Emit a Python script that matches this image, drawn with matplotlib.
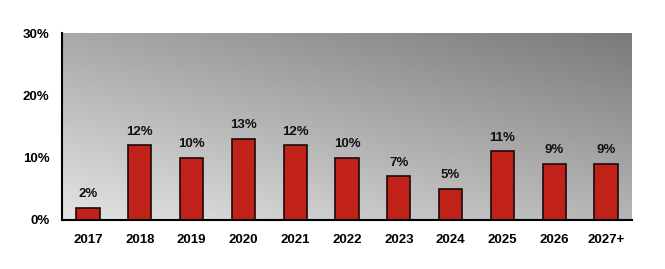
import numpy as np
import matplotlib.pyplot as plt

plt.rcParams['font.family'] = ['Liberation Sans', 'DejaVu Sans']
plt.rcParams['font.weight'] = 'bold'

years = ['2017', '2018', '2019', '2020', '2021', '2022', '2023', '2024', '2025', '2026', '2027+']
shares = [2, 12, 10, 13, 12, 10, 7, 5, 11, 9, 9]

fig = plt.figure(figsize=(6.65, 2.69), dpi=100)
ax = fig.add_axes([62 / 665, 1 - 220 / 269, 570 / 665, 187 / 269])

x = np.arange(len(years))
ax.set_xlim(-0.5, len(years) - 0.5)
ax.set_ylim(0, 30)

# gradient background, light bottom-left to dark top-right
gx, gy = np.meshgrid(np.linspace(0, 1, 200), np.linspace(0, 1, 100))
shade = 0.89 - 0.18 * gx - 0.23 * gy
ax.imshow(shade, cmap='gray', vmin=0, vmax=1, origin='lower', aspect='auto',
          extent=(-0.5, len(years) - 0.5, 0, 30), zorder=0)

ax.bar(x, shares, width=0.45, color='#c0221a', edgecolor='#1a0a0a', linewidth=1.2, zorder=2)
for xi, v in zip(x, shares):
    ax.text(xi, v + 1.2, f'{v}%', ha='center', va='bottom', fontsize=9.5, fontweight='bold', color='#111111')

ax.set_xticks(x)
ax.set_xticklabels(years, fontsize=9.5, fontweight='bold')
ax.set_yticks([0, 10, 20, 30])
ax.set_yticklabels(['0%', '10%', '20%', '30%'], fontsize=9.5, fontweight='bold')
ax.tick_params(axis='x', length=0, pad=10)
ax.tick_params(axis='y', length=0, pad=9)

for s in ['top', 'right']:
    ax.spines[s].set_visible(False)
ax.spines['left'].set_linewidth(1.5)
ax.spines['bottom'].set_linewidth(1.5)

fig.savefig('out.png', dpi=100)
